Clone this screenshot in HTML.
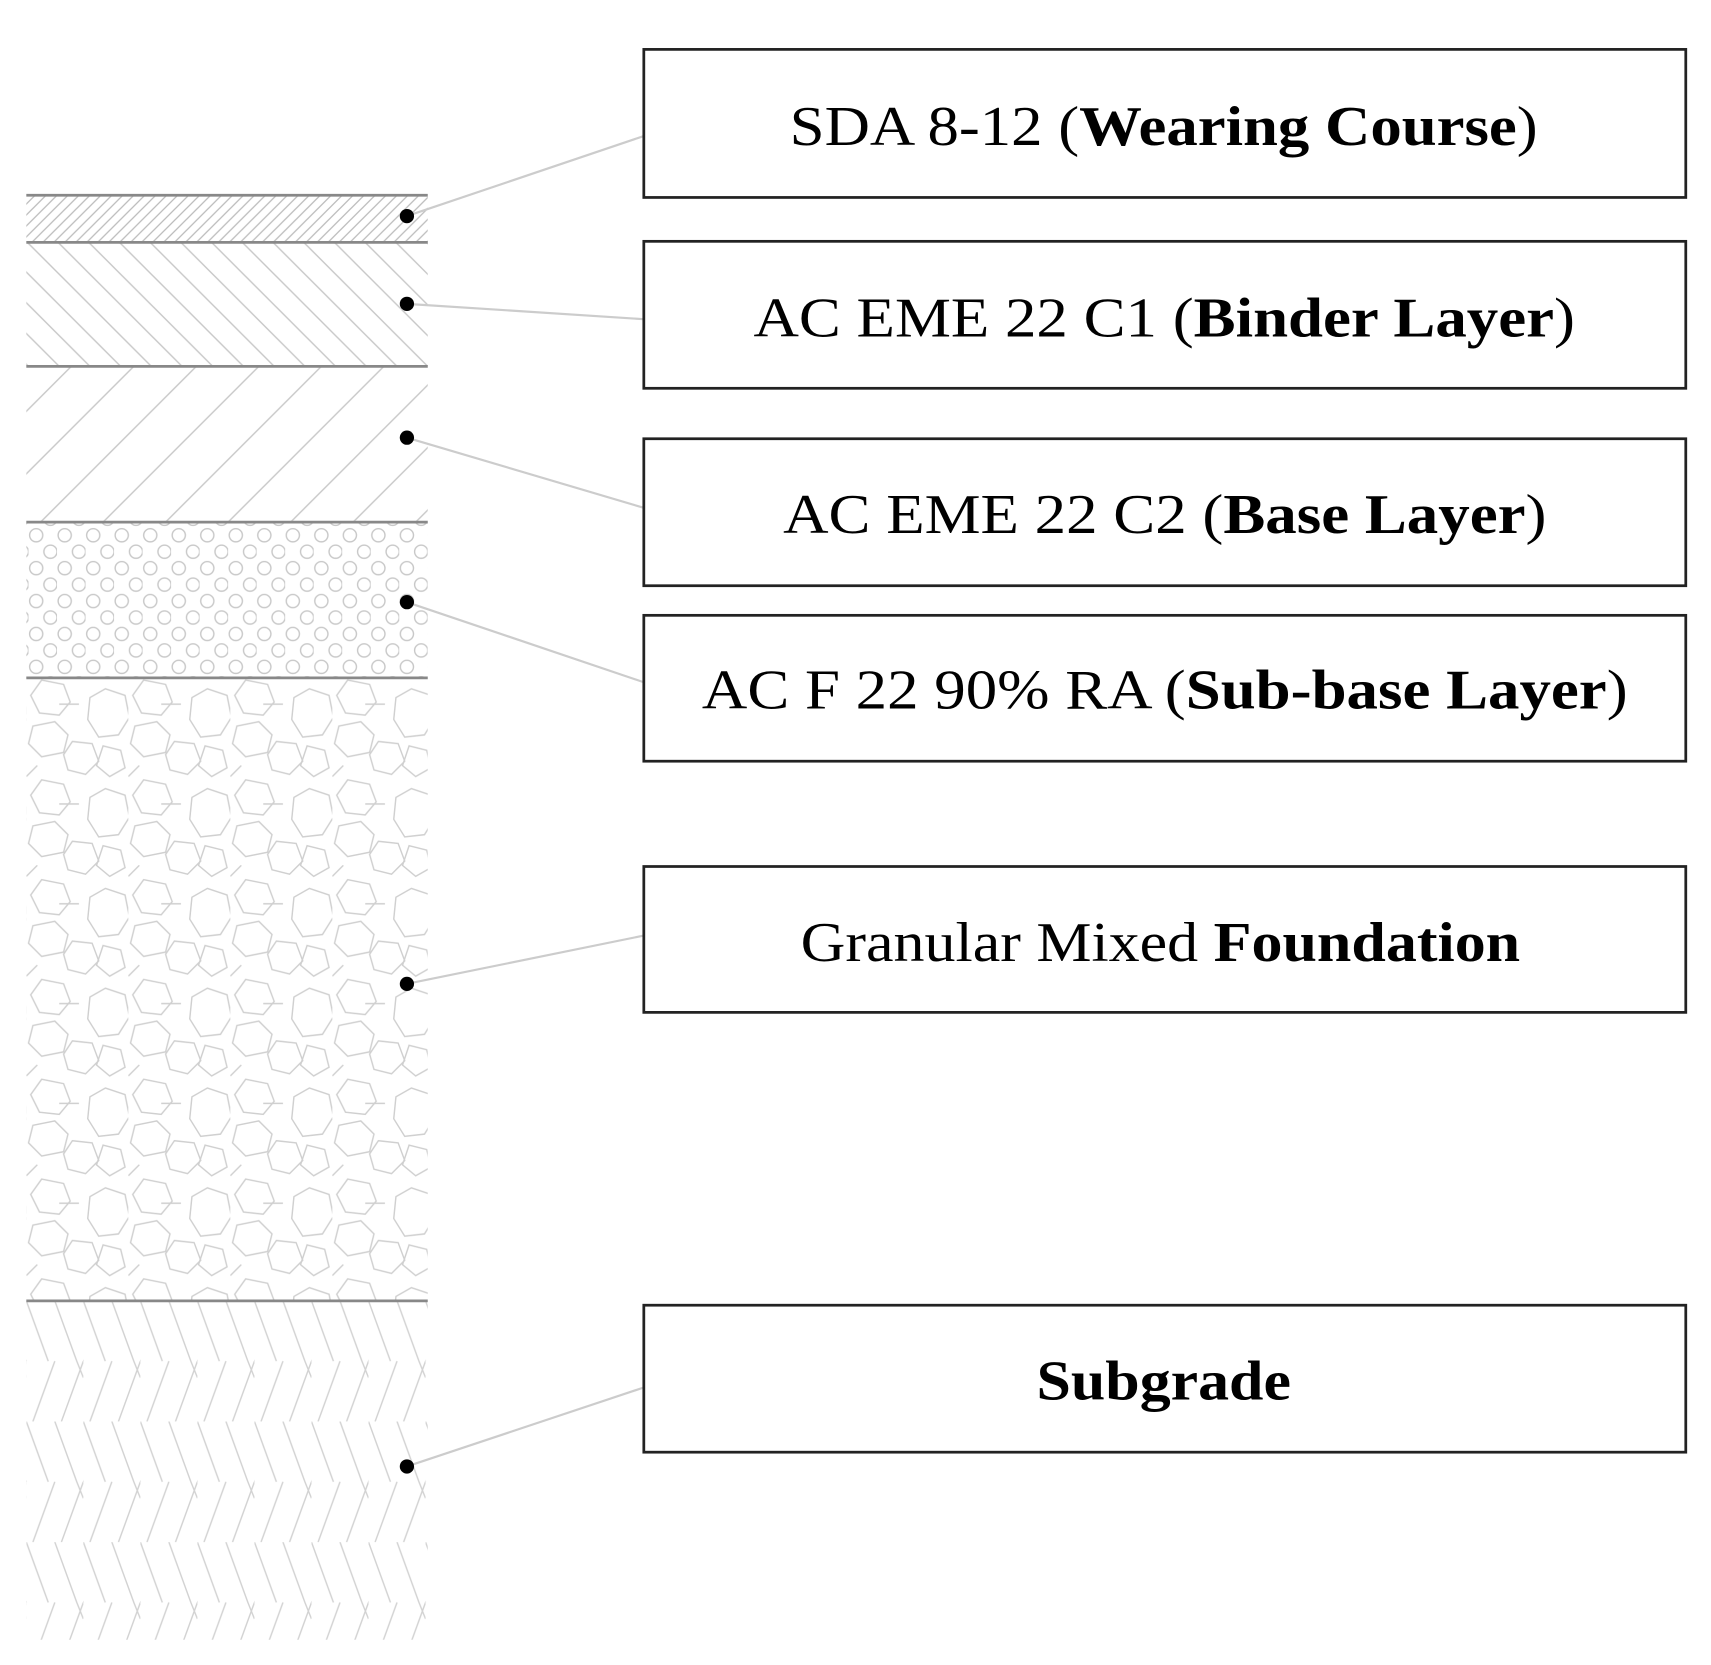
<!DOCTYPE html>
<html><head><style>html,body{margin:0;padding:0;background:#fff}svg{display:block}</style></head>
<body>
<svg width="1711" height="1665" viewBox="0 0 1560 1518" xmlns="http://www.w3.org/2000/svg">
<defs>
<pattern id="p1" width="10" height="10" patternUnits="userSpaceOnUse"><path d="M0,10 L10,0 M-2,2 L2,-2 M8,12 L12,8" stroke="#bbb" stroke-width="1.2"/></pattern>
<pattern id="p2" width="28" height="28" patternUnits="userSpaceOnUse"><path d="M0,0 L28,28 M-14,14 L14,42 M14,-14 L42,14" stroke="#c8c8c8" stroke-width="1.3"/></pattern>
<pattern id="p3" width="57" height="57" patternUnits="userSpaceOnUse"><path d="M0,57 L57,0 M-10,10 L10,-10 M47,67 L67,47" stroke="#c8c8c8" stroke-width="1.3"/></pattern>
<pattern id="p4" width="26" height="30" patternUnits="userSpaceOnUse"><circle cx="7" cy="8" r="6" fill="none" stroke="#c8c8c8" stroke-width="1.3"/><circle cx="20" cy="23" r="6" fill="none" stroke="#c8c8c8" stroke-width="1.3"/></pattern>
<pattern id="p5" width="93" height="91" patternUnits="userSpaceOnUse" x="24" y="618">
<g fill="none" stroke="#cfcfcf" stroke-width="1.3">
<polygon points="72,10 90,16 94,36 84,52 66,54 56,38 58,18"/>
<polygon points="14,2 34,6 40,22 30,34 12,32 4,16"/>
<polygon points="6,44 26,40 38,52 34,68 14,72 2,60"/>
<polygon points="42,58 60,60 66,76 54,88 38,84 34,70"/>
<polygon points="70,62 86,66 90,82 76,90 64,80"/>
<path d="M30,24 L48,24 M0,90 L10,80"/>
</g></pattern>
<pattern id="p6" width="52" height="110" patternUnits="userSpaceOnUse" x="24" y="1186">
<g stroke="#d2d2d2" stroke-width="1.3" fill="none">
<path d="M0,0 L20,55 M26,0 L46,55 M26,55 L6,110 M52,55 L32,110 M-6,40 L0,55 M46,55 L52,70"/>
</g></pattern>
</defs>
<rect x="24" y="178" width="366" height="43" fill="url(#p1)"/>
<rect x="24" y="221" width="366" height="113" fill="url(#p2)"/>
<rect x="24" y="334" width="366" height="142" fill="url(#p3)"/>
<rect x="24" y="476" width="366" height="142" fill="url(#p4)"/>
<rect x="24" y="618" width="366" height="568" fill="url(#p5)"/>
<rect x="24" y="1186" width="366" height="309" fill="url(#p6)"/>
<g stroke="#888" stroke-width="2.5">
<line x1="24" y1="178" x2="390" y2="178"/><line x1="24" y1="221" x2="390" y2="221"/>
<line x1="24" y1="334" x2="390" y2="334"/><line x1="24" y1="476" x2="390" y2="476"/>
<line x1="24" y1="618" x2="390" y2="618"/><line x1="24" y1="1186" x2="390" y2="1186"/>
</g>
<g stroke="#ccc" stroke-width="2">
<line x1="371" y1="197" x2="587" y2="124"/><line x1="371" y1="277" x2="587" y2="291"/>
<line x1="371" y1="399" x2="587" y2="463"/><line x1="371" y1="549" x2="587" y2="622"/>
<line x1="371" y1="897" x2="587" y2="853"/><line x1="371" y1="1337" x2="587" y2="1265"/>
</g>
<g fill="#000">
<circle cx="371" cy="197" r="6.5"/><circle cx="371" cy="277" r="6.5"/><circle cx="371" cy="399" r="6.5"/>
<circle cx="371" cy="549" r="6.5"/><circle cx="371" cy="897" r="6.5"/><circle cx="371" cy="1337" r="6.5"/>
</g>
<g fill="#fff" stroke="#222" stroke-width="2.5">
<rect x="587" y="45" width="950" height="135"/><rect x="587" y="220" width="950" height="134"/>
<rect x="587" y="400" width="950" height="134"/><rect x="587" y="561" width="950" height="133"/>
<rect x="587" y="790" width="950" height="133"/><rect x="587" y="1190" width="950" height="134"/>
</g>
<g font-family="'Liberation Serif', serif" font-size="51" fill="#000">
<text x="720" y="132" textLength="682" lengthAdjust="spacingAndGlyphs">SDA 8-12 (<tspan font-weight="bold">Wearing Course</tspan>)</text>
<text x="687" y="307" textLength="749" lengthAdjust="spacingAndGlyphs">AC EME 22 C1 (<tspan font-weight="bold">Binder Layer</tspan>)</text>
<text x="714" y="486" textLength="696" lengthAdjust="spacingAndGlyphs">AC EME 22 C2 (<tspan font-weight="bold">Base Layer</tspan>)</text>
<text x="640" y="646" textLength="844" lengthAdjust="spacingAndGlyphs">AC F 22 90% RA (<tspan font-weight="bold">Sub-base Layer</tspan>)</text>
<text x="730" y="876" textLength="656" lengthAdjust="spacingAndGlyphs">Granular Mixed <tspan font-weight="bold">Foundation</tspan></text>
<text x="945" y="1276" font-weight="bold" textLength="232" lengthAdjust="spacingAndGlyphs">Subgrade</text>
</g>
</svg>
</body></html>
